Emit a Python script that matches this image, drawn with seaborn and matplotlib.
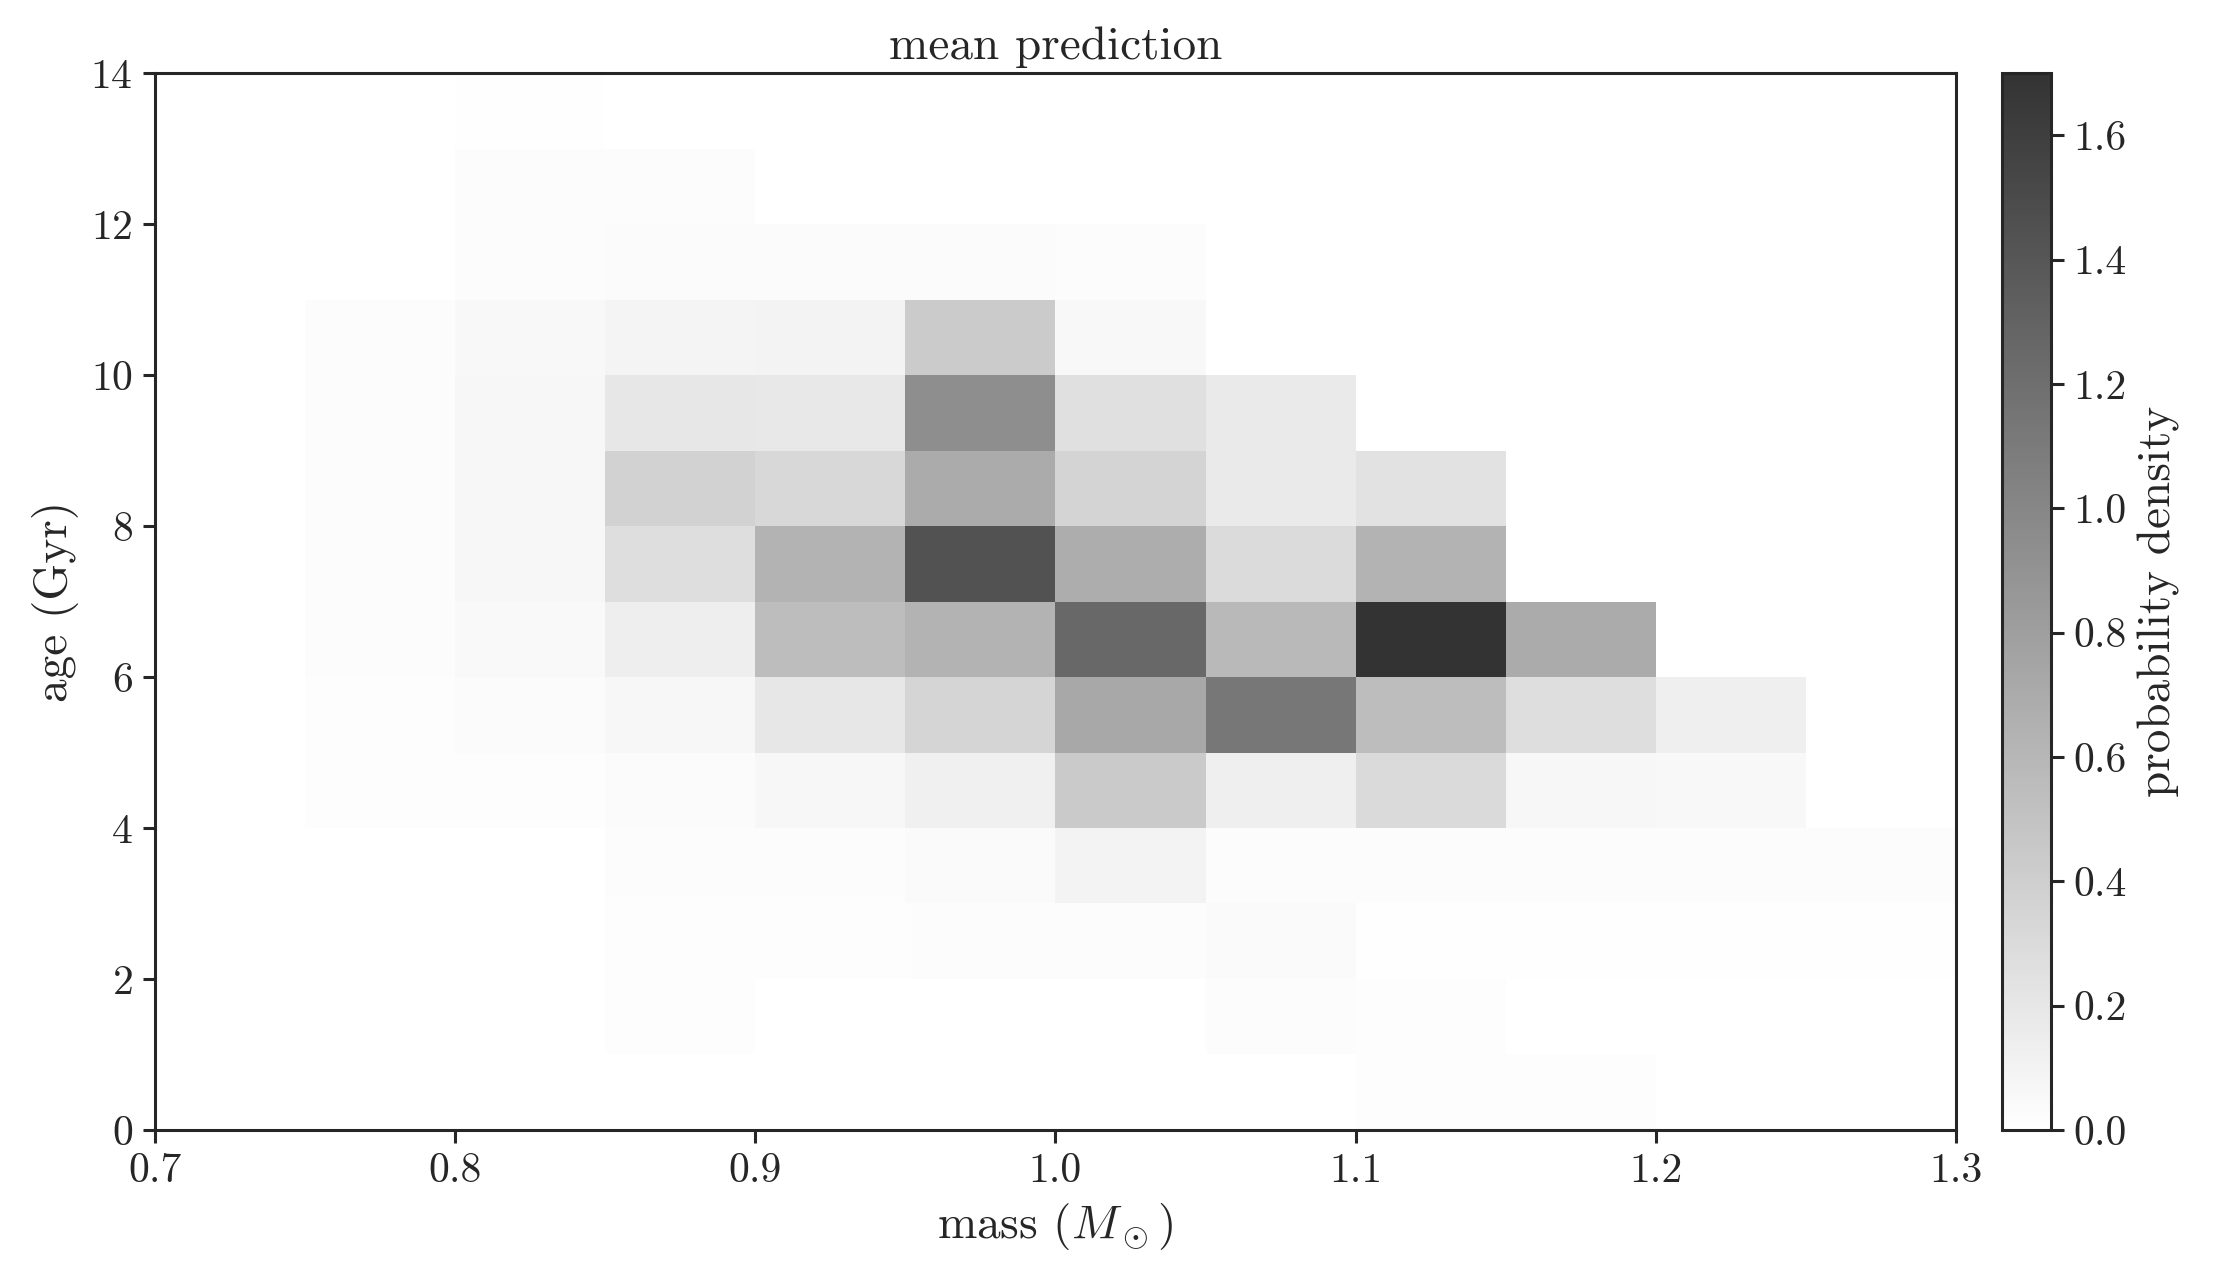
import numpy as np
import pandas as pd
import seaborn as sns
import matplotlib
matplotlib.use("Agg")
import matplotlib.pyplot as plt

# bin centres
mass_centers = [0.725, 0.775, 0.825, 0.875, 0.925, 0.975,
                1.025, 1.075, 1.125, 1.175, 1.225, 1.275]
age_centers = [13.5, 12.5, 11.5, 10.5, 9.5, 8.5, 7.5,
               6.5, 5.5, 4.5, 3.5, 2.5, 1.5, 0.5]

# mean predicted density, one row per age bin (top row = oldest)
density = [
    [0, 0, 0.010, 0, 0, 0, 0, 0, 0, 0, 0, 0],
    [0, 0, 0.020, 0.020, 0, 0, 0, 0, 0, 0, 0, 0],
    [0, 0, 0.020, 0.030, 0.030, 0.030, 0.025, 0, 0, 0, 0, 0],
    [0, 0.025, 0.058, 0.092, 0.100, 0.425, 0.058, 0, 0, 0, 0, 0],
    [0, 0.025, 0.067, 0.200, 0.190, 0.940, 0.258, 0.175, 0, 0, 0, 0],
    [0, 0.025, 0.067, 0.375, 0.325, 0.700, 0.358, 0.175, 0.242, 0, 0, 0],
    [0, 0.025, 0.067, 0.275, 0.633, 1.440, 0.683, 0.300, 0.633, 0, 0, 0],
    [0, 0.025, 0.050, 0.142, 0.545, 0.633, 1.258, 0.580, 1.700, 0.700, 0, 0],
    [0, 0.017, 0.033, 0.067, 0.200, 0.350, 0.725, 1.133, 0.550, 0.275, 0.133, 0],
    [0, 0.017, 0.017, 0.033, 0.067, 0.125, 0.442, 0.133, 0.308, 0.067, 0.058, 0],
    [0, 0, 0, 0.025, 0.025, 0.042, 0.100, 0.025, 0.025, 0.025, 0.025, 0.025],
    [0, 0, 0, 0.017, 0.017, 0.025, 0.025, 0.042, 0.010, 0.010, 0.010, 0.010],
    [0, 0, 0, 0.017, 0, 0, 0, 0.025, 0.017, 0, 0, 0],
    [0, 0, 0, 0, 0, 0, 0, 0, 0.017, 0.017, 0, 0],
]

rows = []
for i, age in enumerate(age_centers):
    for j, mass in enumerate(mass_centers):
        rows.append({"mass": mass, "age": age, "density": density[i][j]})
df = pd.DataFrame(rows)

sns.set_style("ticks")
plt.rcParams["font.family"] = ["cmr10", "DejaVu Serif"]
plt.rcParams["mathtext.fontset"] = "cm"
plt.rcParams["axes.formatter.use_mathtext"] = True
plt.rcParams["axes.linewidth"] = 1.1
plt.rcParams["axes.edgecolor"] = "#262626"

fig = plt.figure(figsize=(11.075, 6.42), dpi=200)
ax = fig.add_axes([0.070, 0.120, 0.813, 0.823])
cax = fig.add_axes([0.904, 0.120, 0.022, 0.823])

sns.histplot(data=df, x="mass", y="age", weights="density", stat="count",
             binwidth=(0.05, 1), binrange=((0.7, 1.3), (0, 14)),
             cmap="gray_r", vmin=0, vmax=1.7, alpha=0.8,
             cbar=True, cbar_ax=cax, ax=ax)

ax.set_xlim(0.7, 1.3)
ax.set_ylim(0, 14)
ax.set_xticks(np.arange(0.7, 1.31, 0.1))
ax.set_xticklabels([f"{v:.1f}" for v in np.arange(0.7, 1.31, 0.1)])
ax.set_yticks(range(0, 15, 2))
for s in ax.spines.values():
    s.set_visible(True)
ax.tick_params(labelsize=15, length=4.5, width=1.1, direction="out")
ax.set_xlabel(r"mass ($M_\odot$)", fontsize=17)
ax.set_ylabel("age (Gyr)", fontsize=17)
ax.set_title("mean prediction", fontsize=17, pad=5)

cax.set_yticks(np.arange(0, 1.61, 0.2))
cax.set_yticklabels([f"{v:.1f}" for v in np.arange(0, 1.61, 0.2)])
cax.tick_params(labelsize=15, length=4.5, width=1.1, direction="out")
cax.set_ylabel("probability density", fontsize=17)
for s in cax.spines.values():
    s.set_linewidth(1.1)

fig.savefig("out.png", dpi=200)
